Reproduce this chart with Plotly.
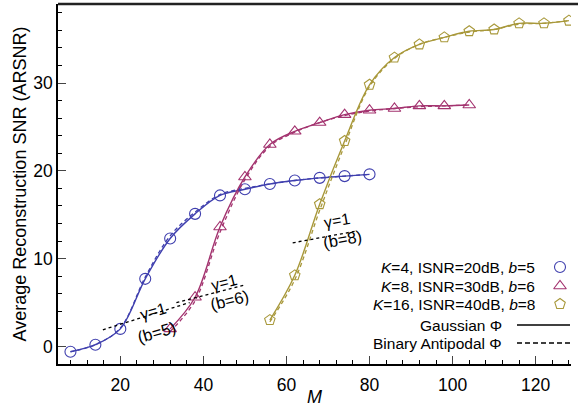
import plotly.graph_objects as go

# ---- data ----
M_k4 = [8, 14, 20, 26, 32, 38, 44, 50, 56, 62, 68, 74, 80]
gauss_k4 = [-0.6, 0.2, 2.0, 7.7, 12.3, 15.1, 17.2, 17.9, 18.5, 18.9, 19.2, 19.4, 19.6]
binary_k4 = [-0.6, 0.2, 2.1, 7.9, 12.6, 15.3, 17.3, 18.0, 18.5, 18.9, 19.2, 19.4, 19.6]

M_k8 = [32, 38, 44, 50, 56, 62, 68, 74, 80, 86, 92, 98, 104]
gauss_k8 = [2.0, 5.6, 13.6, 19.3, 23.0, 24.5, 25.5, 26.4, 26.9, 27.1, 27.4, 27.4, 27.5]
binary_k8 = [1.7, 5.2, 13.0, 19.0, 22.8, 24.4, 25.5, 26.3, 26.8, 27.1, 27.3, 27.4, 27.5]

M_k16 = [56, 62, 68, 74, 80, 86, 92, 98, 104, 110, 116, 122, 128]
gauss_k16 = [3.0, 8.1, 16.2, 23.4, 29.8, 32.9, 34.4, 35.2, 35.9, 36.1, 36.8, 36.8, 37.1]
binary_k16 = [2.8, 7.6, 15.5, 22.9, 29.6, 32.8, 34.4, 35.2, 35.8, 36.1, 36.7, 36.8, 37.1]

series_names = ["<i>K</i>=4, ISNR=20dB, <i>b</i>=5",
                "<i>K</i>=8, ISNR=30dB, <i>b</i>=6",
                "<i>K</i>=16, ISNR=40dB, <i>b</i>=8"]
series_colors = ["#3f3fae", "#a3336f", "#a8983a"]
series_symbols = ["circle-open", "triangle-up-open", "pentagon-open"]

# gamma = 1 reference segments (M, ARSNR)
gamma_b5_x = [15.8, 36.7]
gamma_b5_y = [1.9, 5.0]
gamma_b6_x = [33.5, 50.0]
gamma_b6_y = [5.0, 7.0]
gamma_b8_x = [61.5, 76.4]
gamma_b8_y = [11.8, 13.1]
gamma_labels = ["(b=5)", "(b=6)", "(b=8)"]
# label anchor points (M, ARSNR): gamma text, b text, angle
gamma_label_pos = [((27.8, 4.0), (28.8, 1.7), -16),
                   ((45.0, 7.3), (46.3, 5.3), -14),
                   ((72.2, 14.3), (73.6, 12.2), -10)]

x_ticks = [20, 40, 60, 80, 100, 120]
y_ticks = [0, 10, 20, 30]

FONT = "Liberation Sans, Arial, sans-serif"

fig = go.Figure()

data = [(M_k4, gauss_k4, binary_k4), (M_k8, gauss_k8, binary_k8), (M_k16, gauss_k16, binary_k16)]
for (mx, g, bn), col, sym in zip(data, series_colors, series_symbols):
    fig.add_trace(go.Scatter(x=mx, y=bn, mode="lines", line=dict(color=col, width=1.3, dash="4px,3px", shape="spline"),
                             showlegend=False))
    fig.add_trace(go.Scatter(x=mx, y=g, mode="lines+markers", line=dict(color=col, width=1.4, shape="spline"),
                             marker=dict(symbol=sym, size=11, color=col, line=dict(width=1.1, color=col)),
                             showlegend=False))

for gx, gy in [(gamma_b5_x, gamma_b5_y), (gamma_b6_x, gamma_b6_y), (gamma_b8_x, gamma_b8_y)]:
    fig.add_trace(go.Scatter(x=gx, y=gy, mode="lines", line=dict(color="black", width=1.3, dash="dot"),
                             showlegend=False))

for (g_pos, b_pos, ang), lab in zip(gamma_label_pos, gamma_labels):
    fig.add_annotation(x=g_pos[0], y=g_pos[1], text="γ=1", showarrow=False,
                       textangle=ang, font=dict(size=16, color="black", family=FONT))
    fig.add_annotation(x=b_pos[0], y=b_pos[1], text=lab, showarrow=False,
                       textangle=ang, font=dict(size=16.5, color="black", family=FONT))

W, H, L, R, T, B = 578, 407, 58, 7, 4, 43
pw, ph = W - L - R, H - T - B
def px2paper(px, py):
    return (px - L) / pw, (H - B - py) / ph

# legend (manual, text right-aligned, symbol on the right)
leg_rows_py = [267, 286, 304, 325, 343]
leg_text_right_px = [537, 537, 537, 504, 504]
leg_sym_px = 560
leg_line_px = [517, 570]
leg_texts = series_names + ["Gaussian Φ", "Binary Antipodal Φ"]
for i, txt in enumerate(leg_texts):
    tx, ty = px2paper(leg_text_right_px[i], leg_rows_py[i])
    fig.add_annotation(x=tx, y=ty, xref="paper", yref="paper", text=txt, showarrow=False,
                       xanchor="right", yanchor="middle", font=dict(size=15.5, color="black", family=FONT))
for i in range(3):
    sx, sy = px2paper(leg_sym_px, leg_rows_py[i])
    fig.add_trace(go.Scatter(x=[sx], y=[sy], xaxis="x2", yaxis="y2", mode="markers",
                             marker=dict(symbol=series_symbols[i], size=11, color=series_colors[i],
                                         line=dict(width=1.1, color=series_colors[i])),
                             showlegend=False, hoverinfo="skip"))
for i, dash in [(3, "solid"), (4, "5px,3px")]:
    x0, y0 = px2paper(leg_line_px[0], leg_rows_py[i])
    x1, _ = px2paper(leg_line_px[1], leg_rows_py[i])
    fig.add_shape(type="line", xref="paper", yref="paper", x0=x0, x1=x1, y0=y0, y1=y0,
                  line=dict(color="black", width=1.4, dash=dash))

# top frame line
fig.add_shape(type="line", xref="paper", yref="paper", x0=0, x1=1.02, y0=1, y1=1,
              line=dict(color="#222", width=2.5))

fig.update_layout(
    width=W, height=H,
    margin=dict(l=L, r=R, t=T, b=B),
    paper_bgcolor="white", plot_bgcolor="white",
    font=dict(family=FONT, size=17, color="black"),
    xaxis=dict(range=[5, 128.5], tickvals=x_ticks, ticks="inside", ticklen=8, tickwidth=1.3,
               showgrid=False, zeroline=False, showline=True, linecolor="black", linewidth=1.5,
               tickfont=dict(size=17.5), automargin=False, ticklabelstandoff=4,
               minor=dict(dtick=4, tick0=0, ticks="inside", ticklen=4, tickwidth=1.1, tickcolor="black"),
               title=dict(text="<i>M</i>", font=dict(size=18), standoff=1)),
    yaxis=dict(range=[-2, 39], tickvals=y_ticks, ticks="inside", ticklen=8, tickwidth=1.3,
               showgrid=False, zeroline=False, showline=True, linecolor="black", linewidth=1.5,
               tickfont=dict(size=17.5), automargin=False,
               minor=dict(dtick=2, tick0=0, ticks="inside", ticklen=4, tickwidth=1.1, tickcolor="black"),
               title=dict(text="Average Reconstruction SNR (ARSNR)", font=dict(size=18), standoff=2)),
    xaxis2=dict(range=[0, 1], overlaying="x", visible=False, fixedrange=True),
    yaxis2=dict(range=[0, 1], overlaying="y", visible=False, fixedrange=True),
    showlegend=False,
)

fig.write_html("out.html")
